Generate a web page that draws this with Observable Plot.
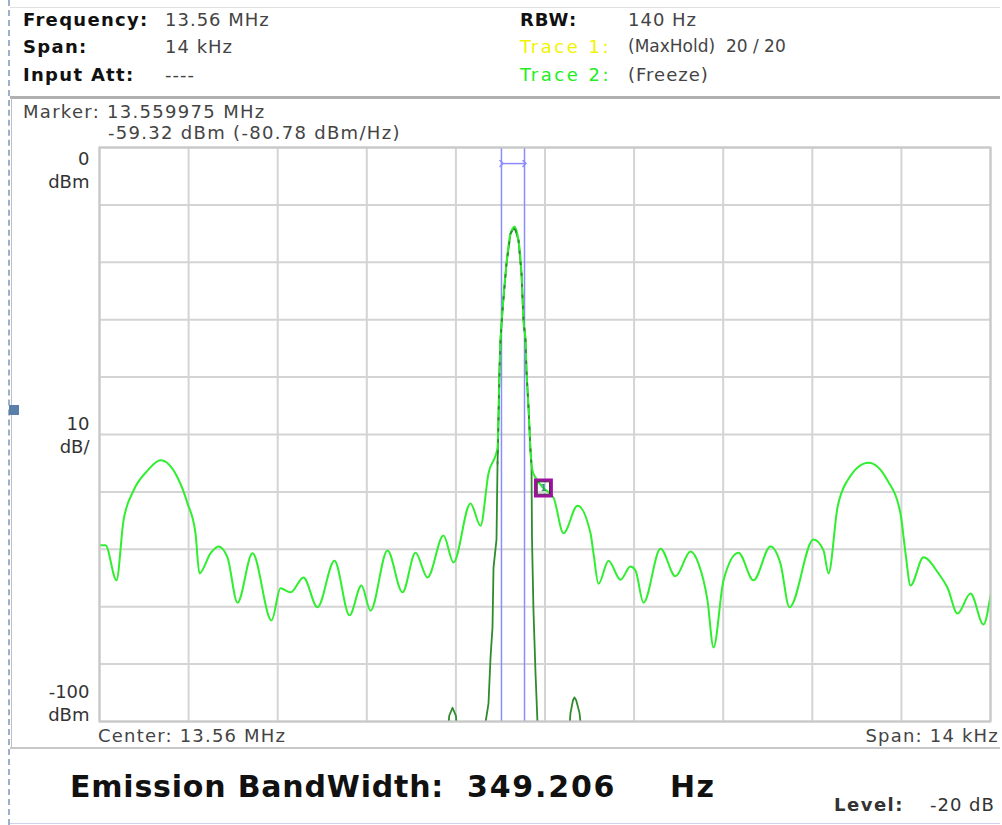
<!DOCTYPE html>
<html>
<head>
<meta charset="utf-8">
<script src="https://cdn.jsdelivr.net/npm/d3@7"></script>
<script src="https://cdn.jsdelivr.net/npm/@observablehq/plot@0.6"></script>
<style>
  html, body { margin: 0; padding: 0; background: #fff; }
  body { width: 1002px; height: 825px; position: relative; overflow: hidden; font-family: "DejaVu Sans", Verdana, sans-serif; color: #333; }
  .t { position: absolute; white-space: pre; line-height: 1; letter-spacing: 1px; }
  .b { font-weight: bold; color: #111; }
  #chart { position: absolute; left: 0; top: 0; }
</style>
</head>
<body>
<div id="chart"></div>
<div id="overlay"></div>
<script>
// ---- Header info ----
const headerLeftLabels = ["Frequency:", "Span:", "Input Att:"];
const headerLeftValues = ["13.56 MHz", "14 kHz", "----"];
const headerRightLabels = ["RBW:", "Trace 1:", "Trace 2:"];
const headerRightValues = ["140 Hz", "(MaxHold)  20 / 20", "(Freeze)"];
const markerLine1 = "Marker: 13.559975 MHz";
const markerLine2 = "-59.32 dBm (-80.78 dBm/Hz)";
const centerLabel = "Center: 13.56 MHz";
const spanLabel = "Span: 14 kHz";
const ebwLabel = "Emission BandWidth:";
const ebwValue = "349.206";
const ebwUnit = "Hz";
const levelLabel = "Level:";
const levelValue = "-20 dB";

// ---- Axes (offset from 13.56 MHz in Hz, level in dBm) ----
const xGridTicks = [-7000, -5600, -4200, -2800, -1400, 0, 1400, 2800, 4200, 5600, 7000];
const yGridTicks = [0, -10, -20, -30, -40, -50, -60, -70, -80, -90, -100];
const yLabelValues = [0, -50, -100];
const yLabelTexts = ["0\ndBm", "10\ndB/", "-100\ndBm"];

// ---- Trace 2 (Freeze, light green) ----
const trace2Freq = [-7000, -6906, -6733, -6623, -6466, -6246, -6041, -5774, -5617, -5492, -5429,
  -5256, -5130, -4989, -4832, -4596, -4297, -4156, -3999, -3795, -3575, -3308, -3072, -2884, -2742,
  -2475, -2239, -2035, -1846, -1595, -1438, -1171, -1013, -888, -746, -715, -699, -668, -605, -542,
  -479, -416, -369, -338, -306, -291, -259, -228, -196, -149, -25, 134, 291, 511, 715, 762, 841,
  998, 1186, 1343, 1422, 1548, 1815, 2051, 2286, 2412, 2553, 2648, 2805, 3040, 3276, 3543, 3700,
  3842, 4219, 4376, 4455, 4596, 4753, 5083, 5382, 5586, 5665, 5743, 5948, 6183, 6325, 6482, 6686,
  6890, 7000];
const trace2Level = [-69.3, -69.3, -75.4, -65.0, -59.8, -56.3, -54.5, -57.5, -62.0, -67.2, -74.2,
  -70.7, -69.5, -71.4, -79.3, -70.7, -82.4, -76.8, -77.5, -74.9, -80.1, -72.0, -81.5, -76.3, -80.7,
  -70.2, -77.5, -70.6, -74.9, -67.6, -72.3, -62.0, -65.9, -56.8, -52.3, -38.9, -33.6, -28.4, -20.2, -15.0,
  -13.8, -16.2, -22.0, -30.1, -33.6, -38.9, -45.3, -52.8, -56.3, -57.5, -59.32, -61.0, -67.2, -62.4, -67.2, -70.7, -76.0,
  -72.0, -75.3, -73.0, -73.7, -79.3, -69.9, -74.7, -70.4, -72.5, -78.9, -87.1, -75.4, -70.6, -75.4, -69.5, -72.5,
  -80.1, -68.3, -70.2, -74.2, -62.7, -58.0, -54.9, -58.0, -63.8, -70.7, -76.3, -71.4, -74.2, -76.7, -81.2, -77.7,
  -83.1, -78.0];

// ---- Trace 1 (MaxHold, dark green) ----
const trace1Freq = [-7000, -1540, -1505, -1453, -1400, -1365, -998, -935, -888, -856, -825, -809, -762, -746,
  -731, -715, -699, -668, -605, -542, -479, -416, -369, -338, -306, -291, -259, -228, -212, -204, -181, -149,
  -118, -86, 360, 401, 440, 463, 490, 542, 595, 7000];
const trace1Level = [-104, -104, -99.0, -97.6, -99.0, -104, -104, -100.2, -96.9, -88.9, -83.6, -73.2, -68.3, -55.1,
  -47.6, -38.9, -33.6, -28.4, -20.2, -15.0, -13.8, -16.2, -22.0, -30.1, -33.6, -38.9, -45.3, -52.8, -55.4, -68.3, -80.7, -91.6,
  -100.2, -104, -104, -98.5, -96.3, -95.8, -96.3, -98.5, -104, -104];

// ---- Bandwidth markers / marker ----
const ebwEdges = [-684, -322];
const markerFreq = [-25];
const markerLevel = [-59.32];
const arrowLevel = -2.8;

const trace2 = trace2Freq.map((f, i) => ({f, v: trace2Level[i]}));
const trace1 = trace1Freq.map((f, i) => ({f, v: trace1Level[i]}));
const yLabels = yLabelValues.map((v, i) => ({v, t: yLabelTexts[i]}));
const markers = markerFreq.map((f, i) => ({f, v: markerLevel[i]}));

const labelOpts = {frameAnchor: "left", y: "v", text: "t", dx: -10, textAnchor: "end", fontSize: 18, fill: "#333", lineHeight: 1.25};

const chart = Plot.plot({
  width: 1002,
  height: 760,
  marginLeft: 99,
  marginRight: 12,
  marginTop: 147,
  marginBottom: 39,
  x: {domain: [-7000, 7000], axis: null},
  y: {domain: [-100, 0], axis: null},
  style: {fontFamily: "DejaVu Sans, Verdana, sans-serif", background: "transparent", overflow: "visible"},
  marks: [
    Plot.ruleX(xGridTicks, {x: d => d, stroke: "#d4d4d4", strokeWidth: 2, strokeOpacity: 1}),
    Plot.ruleY(yGridTicks, {y: d => d, stroke: "#d4d4d4", strokeWidth: 2, strokeOpacity: 1}),
    Plot.ruleX(ebwEdges, {x: d => d, stroke: "#8c8cff", strokeWidth: 1.5}),
    Plot.link([ebwEdges], {x1: d => d[0], x2: d => d[1], y1: arrowLevel, y2: arrowLevel, stroke: "#8c8cff", strokeWidth: 1.5, markerStart: "arrow", markerEnd: "arrow"}),
    Plot.line(trace1, {x: "f", y: "v", stroke: "#2e8b2e", strokeWidth: 1.8, clip: true}),
    Plot.line(trace2, {x: "f", y: "v", stroke: "#30ee30", strokeWidth: 2, curve: "monotone-x", clip: true}),
    Plot.line(trace1.filter(d => d.v > -56), {x: "f", y: "v", stroke: "#2e8b2e", strokeWidth: 1.8, strokeDasharray: "2,9", clip: true}),
    Plot.dot(markers, {x: "f", y: "v", symbol: "square", r: 9, stroke: "#a010a0", strokeWidth: 3, fill: "none"}),
    Plot.dot(markers, {x: "f", y: "v", symbol: "square", r: 7, stroke: "#3a1a3a", strokeWidth: 1, fill: "none"}),
    Plot.text(markers, {x: "f", y: "v", text: () => "1", fontSize: 8, fill: "#2a8a8a", fontWeight: "bold"}),
    Plot.frame({stroke: "#c8c8c8", strokeWidth: 2}),
    Plot.text(yLabels.filter(d => d.v === 0), {...labelOpts, lineAnchor: "top", dy: 2}),
    Plot.text(yLabels.filter(d => d.v === -50), {...labelOpts, lineAnchor: "middle", dy: 0}),
    Plot.text(yLabels.filter(d => d.v === -100), {...labelOpts, lineAnchor: "bottom", dy: -1})
  ]
});
document.getElementById("chart").appendChild(chart);

// ---- HTML overlay texts and decorations ----
const ov = document.getElementById("overlay");
function addText(txt, left, top, size, cls, color, extra) {
  const d = document.createElement("div");
  d.className = "t " + (cls || "");
  d.textContent = txt;
  d.style.left = left + "px";
  d.style.top = top + "px";
  d.style.fontSize = size + "px";
  if (color) d.style.color = color;
  if (extra) Object.assign(d.style, extra);
  ov.appendChild(d);
  return d;
}
function addBox(left, top, w, h, style) {
  const d = document.createElement("div");
  d.style.position = "absolute";
  d.style.left = left + "px"; d.style.top = top + "px";
  d.style.width = w + "px"; d.style.height = h + "px";
  Object.assign(d.style, style);
  ov.appendChild(d);
}
// frame lines
addBox(10, 7, 990, 1, {background: "#e0e0e0"});
addBox(10, 96, 990, 3, {background: "#b0b0b0"});
addBox(11, 98, 1, 650, {background: "#c0c0c0"});
addBox(10, 747, 990, 2, {background: "#c8c8c8"});
addBox(10, 823, 990, 1, {background: "#d0d0f0"});
addBox(8, 0, 0, 825, {borderLeft: "2px dashed #9ab0cc"});
addBox(9, 405, 10, 10, {background: "#5a7fa8"});

const rowsY = [11, 38, 66];
headerLeftLabels.forEach((t, i) => addText(t, 23, rowsY[i], 18, "b", null, {letterSpacing: "1.3px"}));
headerLeftValues.forEach((t, i) => addText(t, 165, rowsY[i], 18, "", "#444"));
const rightColors = ["#111", "#f2f200", "#22ee22"];
headerRightLabels.forEach((t, i) => addText(t, 520, rowsY[i], 18, i === 0 ? "b" : "", rightColors[i], i === 0 ? {} : {letterSpacing: "2.5px"}));
headerRightValues.forEach((t, i) => addText(t, 628, rowsY[i], i === 1 ? 17 : 18, "", "#444", i === 1 ? {letterSpacing: "0px"} : {}));

addText(markerLine1, 23, 103, 18, "", "#444", {letterSpacing: "1.3px"});
addText(markerLine2, 108, 124, 18, "", "#444", {letterSpacing: "1.3px"});
addText(centerLabel, 98, 727, 18, "", "#444", {letterSpacing: "1.2px"});
addText(spanLabel, 0, 727, 18, "", "#444", {left: "auto", right: "3px", letterSpacing: "1.2px"});

addText(ebwLabel, 70, 772, 30, "b", null, {letterSpacing: "0.8px"});
addText(ebwValue, 467, 772, 30, "b", null, {letterSpacing: "1.8px"});
addText(ebwUnit, 670, 772, 30, "b", null, {letterSpacing: "1.5px"});
addText(levelLabel, 834, 796, 18, "b", "#333", {letterSpacing: "1.5px", fontWeight: "600"});
addText(levelValue, 930, 796, 18, "", "#333", {letterSpacing: "1px"});
</script>
</body>
</html>
